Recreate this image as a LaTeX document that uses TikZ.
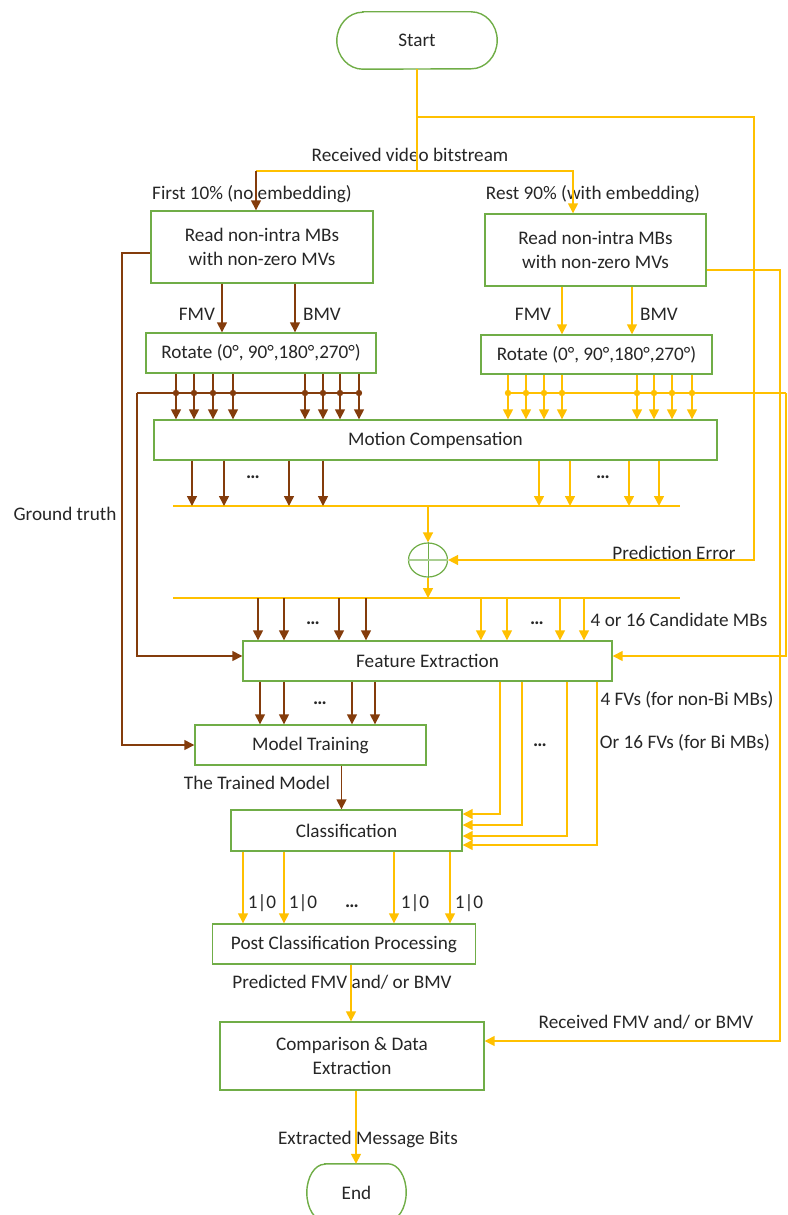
\documentclass[tikz,border=0pt]{standalone}
\usepackage{fontspec}
\setmainfont{Carlito}
\usetikzlibrary{arrows.meta, shapes.geometric}
\definecolor{flowgreen}{HTML}{70AD47}
\definecolor{flowyellow}{HTML}{FFC000}
\definecolor{flowbrown}{HTML}{843C0C}
\tikzset{
  box/.style={rectangle,draw=flowgreen,line width=1.4pt,align=center,inner sep=0pt,text=black!85},
  terminal/.style={rectangle,align=center,inner sep=0pt,text=black!85},
  lbl/.style={inner sep=0pt,text=black!85},
  yline/.style={draw=flowyellow,line width=1.5pt},
  bline/.style={draw=flowbrown,line width=1.5pt},
  yarrow/.style={yline,-{Triangle[length=10pt,width=10pt]}},
  barrow/.style={bline,-{Triangle[length=10pt,width=10pt]}}
}

\begin{document}
\begin{tikzpicture}[x=1pt,y=-1pt,font=\fontsize{19.2}{24}\selectfont]
\useasboundingbox (0,0) rectangle (787,1215);

% terminals
\node[terminal, minimum width=160pt, minimum height=57pt] (start) at (417,40.5) {Start};
\draw[flowgreen, line width=1.4pt] ([xshift=26pt]start.north west) -- ([xshift=-26pt]start.north east)
  arc[start angle=90, end angle=-90, x radius=26pt, y radius=28.5pt] -- ([xshift=26pt]start.south west)
  arc[start angle=270, end angle=90, x radius=26pt, y radius=28.5pt] -- cycle;
\node[terminal, minimum width=99pt, minimum height=57pt] (end) at (356.5,1192.5) {End};
\draw[flowgreen, line width=1.4pt] ([xshift=18pt]end.north west) -- ([xshift=-18pt]end.north east)
  arc[start angle=90, end angle=-90, x radius=18pt, y radius=28.5pt] -- ([xshift=18pt]end.south west)
  arc[start angle=270, end angle=90, x radius=18pt, y radius=28.5pt] -- cycle;

% process boxes
\node[box, minimum width=222pt, minimum height=72pt] (readL) at (262,247) {Read non-intra MBs\\with non-zero MVs};
\node[box, minimum width=221pt, minimum height=72pt] (readR) at (595.5,250) {Read non-intra MBs\\with non-zero MVs};
\node[box, minimum width=230pt, minimum height=40pt] (rotL) at (261,353) {Rotate (0°, 90°,180°,270°)};
\node[box, minimum width=231pt, minimum height=39pt] (rotR) at (596.5,354.5) {Rotate (0°, 90°,180°,270°)};
\node[box, minimum width=563pt, minimum height=40pt] (mc) at (435.5,440) {Motion Compensation};
\node[ellipse, draw=flowgreen, line width=1.2pt, minimum width=39pt, minimum height=34pt, inner sep=0pt] (sum) at (428,560) {};
\draw[flowgreen, line width=1pt] (sum.north) -- (sum.south);
\draw[flowgreen!60, line width=2.4pt] (sum.west) -- (sum.east);
\node[box, minimum width=369pt, minimum height=40pt] (fe) at (427.5,661) {Feature Extraction};
\node[box, minimum width=231pt, minimum height=40pt] (mt) at (310.5,745) {Model Training};
\node[box, minimum width=231pt, minimum height=41pt] (cls) at (346.5,830.5) {Classification};
\node[box, minimum width=263pt, minimum height=40pt] (pcp) at (344,944) {Post Classification Processing};
\node[box, minimum width=264pt, minimum height=68pt] (cde) at (352,1056) {Comparison \& Data\\Extraction};

% labels
\node[lbl] (rvb) at (410,155) {Received video bitstream};
\node[lbl] (first) at (252,194) {First 10\% (no embedding)};
\node[lbl] (rest) at (593,194) {Rest 90\% (with embedding)};
\node[lbl] (fmvL) at (197,314) {FMV};
\node[lbl] (bmvL) at (322,314) {BMV};
\node[lbl] (fmvR) at (533,314) {FMV};
\node[lbl] (bmvR) at (659,314) {BMV};
\node[lbl] (gt) at (65,514) {Ground truth};
\node[lbl] (perr) at (674,553) {Prediction Error};
\node[lbl] (cand) at (679,620) {4 or 16 Candidate MBs};
\node[lbl] (fv4) at (687,700) {4 FVs (for non-Bi MBs)};
\node[lbl] (fv16) at (685,743) {Or 16 FVs (for Bi MBs)};
\node[lbl] (trained) at (257,783) {The Trained Model};
\node[lbl] (pred) at (342,982) {Predicted FMV and/ or BMV};
\node[lbl] (rcv) at (646,1022) {Received FMV and/ or BMV};
\node[lbl] (bits) at (368,1139) {Extracted Message Bits};
\foreach \x/\y in {253/477,603/477,313/623,537/623,320/703,540/745,352/906}
  \node[lbl, font=\fontsize{19.2}{24}\selectfont\bfseries] at (\x,\y) {…};
\foreach \x in {262,303,415,469}
  \node[lbl] at (\x,903) {1|0};

% bitstream split
\coordinate (split) at (417,117);
\coordinate (errR) at (754,117);
\coordinate (fork) at (417,171);
\coordinate (forkL) at (256,171);
\coordinate (forkR) at (573,171);
\draw[yline] (start.south) -- (fork) -- (forkL);
\draw[barrow] (forkL) -- (readL.north -| forkL);
\draw[yarrow] (fork) -- (forkR) -- (readR.north -| forkR);
\draw[yarrow] (split) -- (errR) |- (sum.east);

% motion vectors
\foreach \x in {222,295} \draw[barrow] (\x,0 |- readL.south) -- (\x,0 |- rotL.north);
\foreach \x in {562,632} \draw[yarrow] (\x,0 |- readR.south) -- (\x,0 |- rotR.north);

% rotated candidates
\coordinate (busL) at (137,393);
\coordinate (busR) at (786,393);
\draw[bline] (busL) -- (359,0 |- busL);
\draw[yline] (508,0 |- busR) -- (busR);
\foreach \x in {176,194,213,233,305,323,340,359} {
  \draw[barrow] (\x,0 |- rotL.south) -- (\x,0 |- mc.north);
  \fill[flowbrown] (\x,0 |- busL) circle (3.2pt);
}
\foreach \x in {508,526,544,562,637,654,672,692} {
  \draw[yarrow] (\x,0 |- rotR.south) -- (\x,0 |- mc.north);
  \fill[flowyellow] (\x,0 |- busR) circle (3.2pt);
}
\draw[barrow] (busL) |- (fe.west |- 0,656);
\draw[yarrow] (busR) |- (fe.east |- 0,656);

% residual
\coordinate (mcbusL) at (173,506);
\coordinate (mcbusR) at (680,506);
\coordinate (febusL) at (173,598);
\coordinate (febusR) at (680,598);
\draw[yline] (mcbusL) -- (mcbusR);
\draw[yline] (febusL) -- (febusR);
\foreach \x in {192,224,289,323} \draw[barrow] (\x,0 |- mc.south) -- (\x,0 |- mcbusL);
\foreach \x in {539,570,629,659} \draw[yarrow] (\x,0 |- mc.south) -- (\x,0 |- mcbusL);
\draw[yarrow] (sum.north |- mcbusL) -- (sum.north);
\draw[yarrow] (sum.south) -- (sum.south |- febusL);
\foreach \x in {258,284,339,366} \draw[barrow] (\x,0 |- febusL) -- (\x,0 |- fe.north);
\foreach \x in {481,507,560,584} \draw[yarrow] (\x,0 |- febusL) -- (\x,0 |- fe.north);

% features
\foreach \x in {260,284,352,375} \draw[barrow] (\x,0 |- fe.south) -- (\x,0 |- mt.north);
\foreach \x/\y in {500/814,522/825,567/836,597/845} \draw[yarrow] (\x,0 |- fe.south) |- (cls.east |- 0,\y);
\draw[barrow] (341.5,0 |- mt.south) -- (341.5,0 |- cls.north);

% ground truth and received vectors
\coordinate (gtL) at (122,253);
\coordinate (rcvR) at (780,270);
\draw[barrow] (readL.west |- gtL) -- (gtL) |- (mt.west);
\draw[yarrow] (readR.east |- rcvR) -- (rcvR) |- (cde.east |- 0,1041);

% decisions and extraction
\foreach \x in {243,284,394,450} \draw[yarrow] (\x,0 |- cls.south) -- (\x,0 |- pcp.north);
\draw[yarrow] (351,0 |- pcp.south) -- (351,0 |- cde.north);
\draw[yarrow] (356,0 |- cde.south) -- (356,0 |- end.north);
\end{tikzpicture}
\end{document}
